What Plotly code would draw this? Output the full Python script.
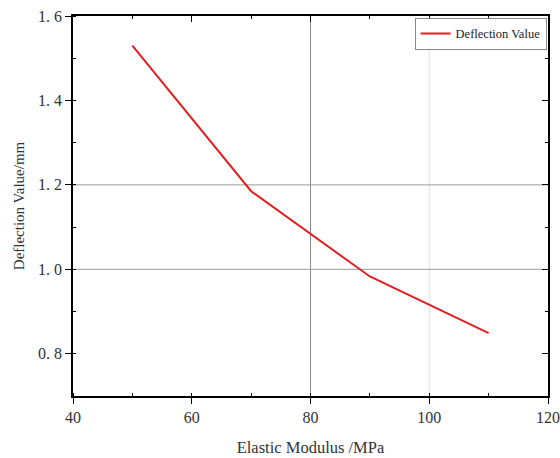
import plotly.graph_objects as go

modulus = [50, 70, 90, 110]
deflection = [1.53, 1.185, 0.983, 0.849]

x_ticks = [40, 60, 80, 100, 120]
x_ticktext = ["40", "60", "80", "100", "120"]
y_ticks = [0.8, 1.0, 1.2, 1.4, 1.6]
y_ticktext = ["0. 8", "1. 0", "1. 2", "1. 4", "1. 6"]

grid_x = [(80, "#8c8c8c"), (100, "#e0e0e0")]
grid_y = [(1.2, "#9a9a9a"), (1.0, "#9a9a9a")]

font = "Liberation Serif"

fig = go.Figure()
fig.add_trace(go.Scatter(x=modulus, y=deflection, mode="lines", name="Deflection Value",
                         line=dict(color="#e02020", width=2)))
fig.add_trace(go.Scatter(x=modulus, y=deflection, mode="lines", xaxis="x2", yaxis="y2",
                         showlegend=False, hoverinfo="skip", line=dict(color="rgba(0,0,0,0)")))

shapes = []
for gx, c in grid_x:
    shapes.append(dict(type="line", xref="x", yref="paper", x0=gx, x1=gx, y0=0, y1=1,
                       line=dict(color=c, width=1), layer="below"))
for gy, c in grid_y:
    shapes.append(dict(type="line", xref="paper", yref="y", x0=0, x1=1, y0=gy, y1=gy,
                       line=dict(color=c, width=1), layer="below"))

axcommon = dict(showline=True, linecolor="black", linewidth=1.5, showgrid=False,
                zeroline=False, tickcolor="black", tickwidth=1.2, automargin=False,
                tickfont=dict(family=font, size=16, color="#333"))

fig.update_layout(
    width=560, height=458,
    margin=dict(l=73, r=12, t=16, b=62),
    paper_bgcolor="white", plot_bgcolor="white",
    shapes=shapes,
    xaxis=dict(range=[40, 120], tickvals=x_ticks, ticktext=x_ticktext, ticks="outside", ticklen=6,
               minor=dict(ticks="inside", ticklen=3, dtick=10, tick0=40, tickcolor="black", tickwidth=1.2),
               title=dict(text="Elastic Modulus /MPa", font=dict(family=font, size=16.5, color="#333"), standoff=16),
               **axcommon),
    yaxis=dict(range=[0.7, 1.6], tickvals=y_ticks, ticktext=y_ticktext, ticks="outside", ticklen=6,
               minor=dict(ticks="inside", ticklen=3, dtick=0.1, tick0=0.7, tickcolor="black", tickwidth=1.2),
               title=dict(text="Deflection Value/mm", font=dict(family=font, size=15, color="#333"), standoff=10),
               **axcommon),
    xaxis2=dict(range=[40, 120], overlaying="x", side="top", tickvals=x_ticks, ticks="inside", ticklen=6,
                showticklabels=False,
                minor=dict(ticks="inside", ticklen=3, dtick=10, tick0=40, tickcolor="black", tickwidth=1.2),
                **axcommon),
    yaxis2=dict(range=[0.7, 1.6], overlaying="y", side="right", tickvals=y_ticks, ticks="inside", ticklen=6,
                showticklabels=False,
                minor=dict(ticks="inside", ticklen=3, dtick=0.1, tick0=0.7, tickcolor="black", tickwidth=1.2),
                **axcommon),
    legend=dict(x=0.997, xanchor="right", y=0.995, yanchor="top", bgcolor="white",
                bordercolor="#888", borderwidth=1, font=dict(family=font, size=12.5, color="#222"),
                tracegroupgap=0, itemwidth=30),
    showlegend=True,
)

fig.write_html("out.html", config={"displayModeBar": False},
               post_script="document.body.style.margin='0px';")
